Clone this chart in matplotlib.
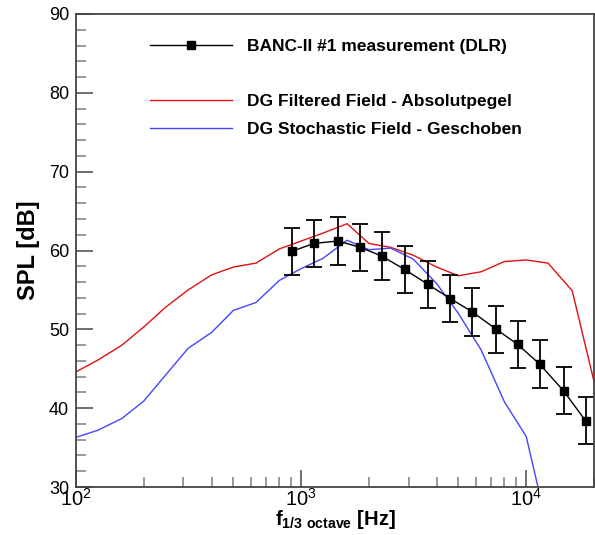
import numpy as np
import matplotlib
matplotlib.use('Agg')
import matplotlib.pyplot as plt
from matplotlib.ticker import LogLocator, MultipleLocator, NullFormatter
from matplotlib.lines import Line2D

plt.rcParams['font.family'] = ['Liberation Sans', 'DejaVu Sans']
plt.rcParams['mathtext.fontset'] = 'custom'
plt.rcParams['mathtext.rm'] = 'Liberation Sans'
plt.rcParams['mathtext.bf'] = 'Liberation Sans:bold'

# measurement (third-octave bands)
f_meas = [912, 1140, 1460, 1830, 2280, 2880, 3660, 4600, 5770, 7360, 9150, 11460, 14650, 18350]
spl_meas = [59.9, 60.9, 61.2, 60.4, 59.3, 57.6, 55.7, 53.9, 52.2, 50.0, 48.1, 45.6, 42.2, 38.4]
err_meas = [3.0] * len(f_meas)

# simulations
f_sim = [100, 125, 160, 200, 250, 315, 400, 500, 630, 800, 1000, 1250, 1600, 2000,
         2500, 3150, 4000, 5000, 6300, 8000, 10000, 12500, 16000, 20000]
spl_filtered = [44.6, 46.1, 48.0, 50.3, 52.8, 55.0, 56.9, 57.9, 58.4, 60.2, 61.2, 62.2, 63.4, 60.9,
                60.4, 59.4, 57.9, 56.8, 57.3, 58.6, 58.8, 58.4, 54.9, 43.4]
spl_stochastic = [36.3, 37.2, 38.7, 40.9, 44.2, 47.6, 49.6, 52.4, 53.4, 56.2, 57.7, 59.0, 61.3, 60.1,
                  60.3, 58.9, 55.8, 52.0, 47.4, 40.8, 36.4, 24.5, 15.0, 10.0]

fig = plt.figure(figsize=(5.95, 5.35), dpi=100)
ax = fig.add_axes([76/595, 1 - 487/535, 518/595, 473/535])

ax.plot(f_sim, spl_filtered, color='#e01010', lw=1.0)
ax.plot(f_sim, spl_stochastic, color='#4545ff', lw=1.0)
ax.errorbar(f_meas, spl_meas, yerr=err_meas, color='black', lw=1.0, marker='s', ms=6,
            elinewidth=1.3, capsize=6, capthick=1.3, ecolor='black')

ax.set_xscale('log')
ax.set_xlim(100, 20000)
ax.set_ylim(30, 90)
ax.yaxis.set_major_locator(MultipleLocator(10))
ax.yaxis.set_minor_locator(MultipleLocator(2))
ax.xaxis.set_major_locator(LogLocator(base=10))
ax.xaxis.set_minor_locator(LogLocator(base=10, subs=np.arange(2, 10)))
ax.xaxis.set_minor_formatter(NullFormatter())

ax.tick_params(which='both', direction='in', top=False, right=False, color='#555555', width=1.2)
ax.tick_params(which='major', length=12)
ax.tick_params(which='minor', length=7, color='#888888')
ax.tick_params(axis='y', labelsize=13, pad=5)
ax.tick_params(axis='x', labelsize=14.5, pad=1)
for s in ax.spines.values():
    s.set_color('#444444')
    s.set_linewidth(1.3)

ax.set_ylabel('SPL [dB]', fontsize=17, fontweight='bold')
ax.yaxis.set_label_coords(-0.07, 0.5)
ax.set_xlabel(r'$\mathbf{f}_{\mathbf{1/3\ octave}}$ [Hz]', fontsize=14.5, fontweight='bold')
ax.xaxis.set_label_coords(0.5, -0.045)

handles = [
    Line2D([], [], color='black', lw=1.0, marker='s', ms=6),
    Line2D([], [], color='none'),
    Line2D([], [], color='#e01010', lw=1.0),
    Line2D([], [], color='#4545ff', lw=1.0),
]
labels = ['BANC-II #1 measurement (DLR)', '', 'DG Filtered Field - Absolutpegel',
          'DG Stochastic Field - Geschoben']
leg = ax.legend(handles, labels, loc='upper left', bbox_to_anchor=(0.126, 0.966), frameon=False,
                handlelength=4.7, handletextpad=0.9, labelspacing=0.72, borderpad=0,
                prop={'weight': 'bold', 'size': 12.5})

fig.savefig('out.png', dpi=100)
